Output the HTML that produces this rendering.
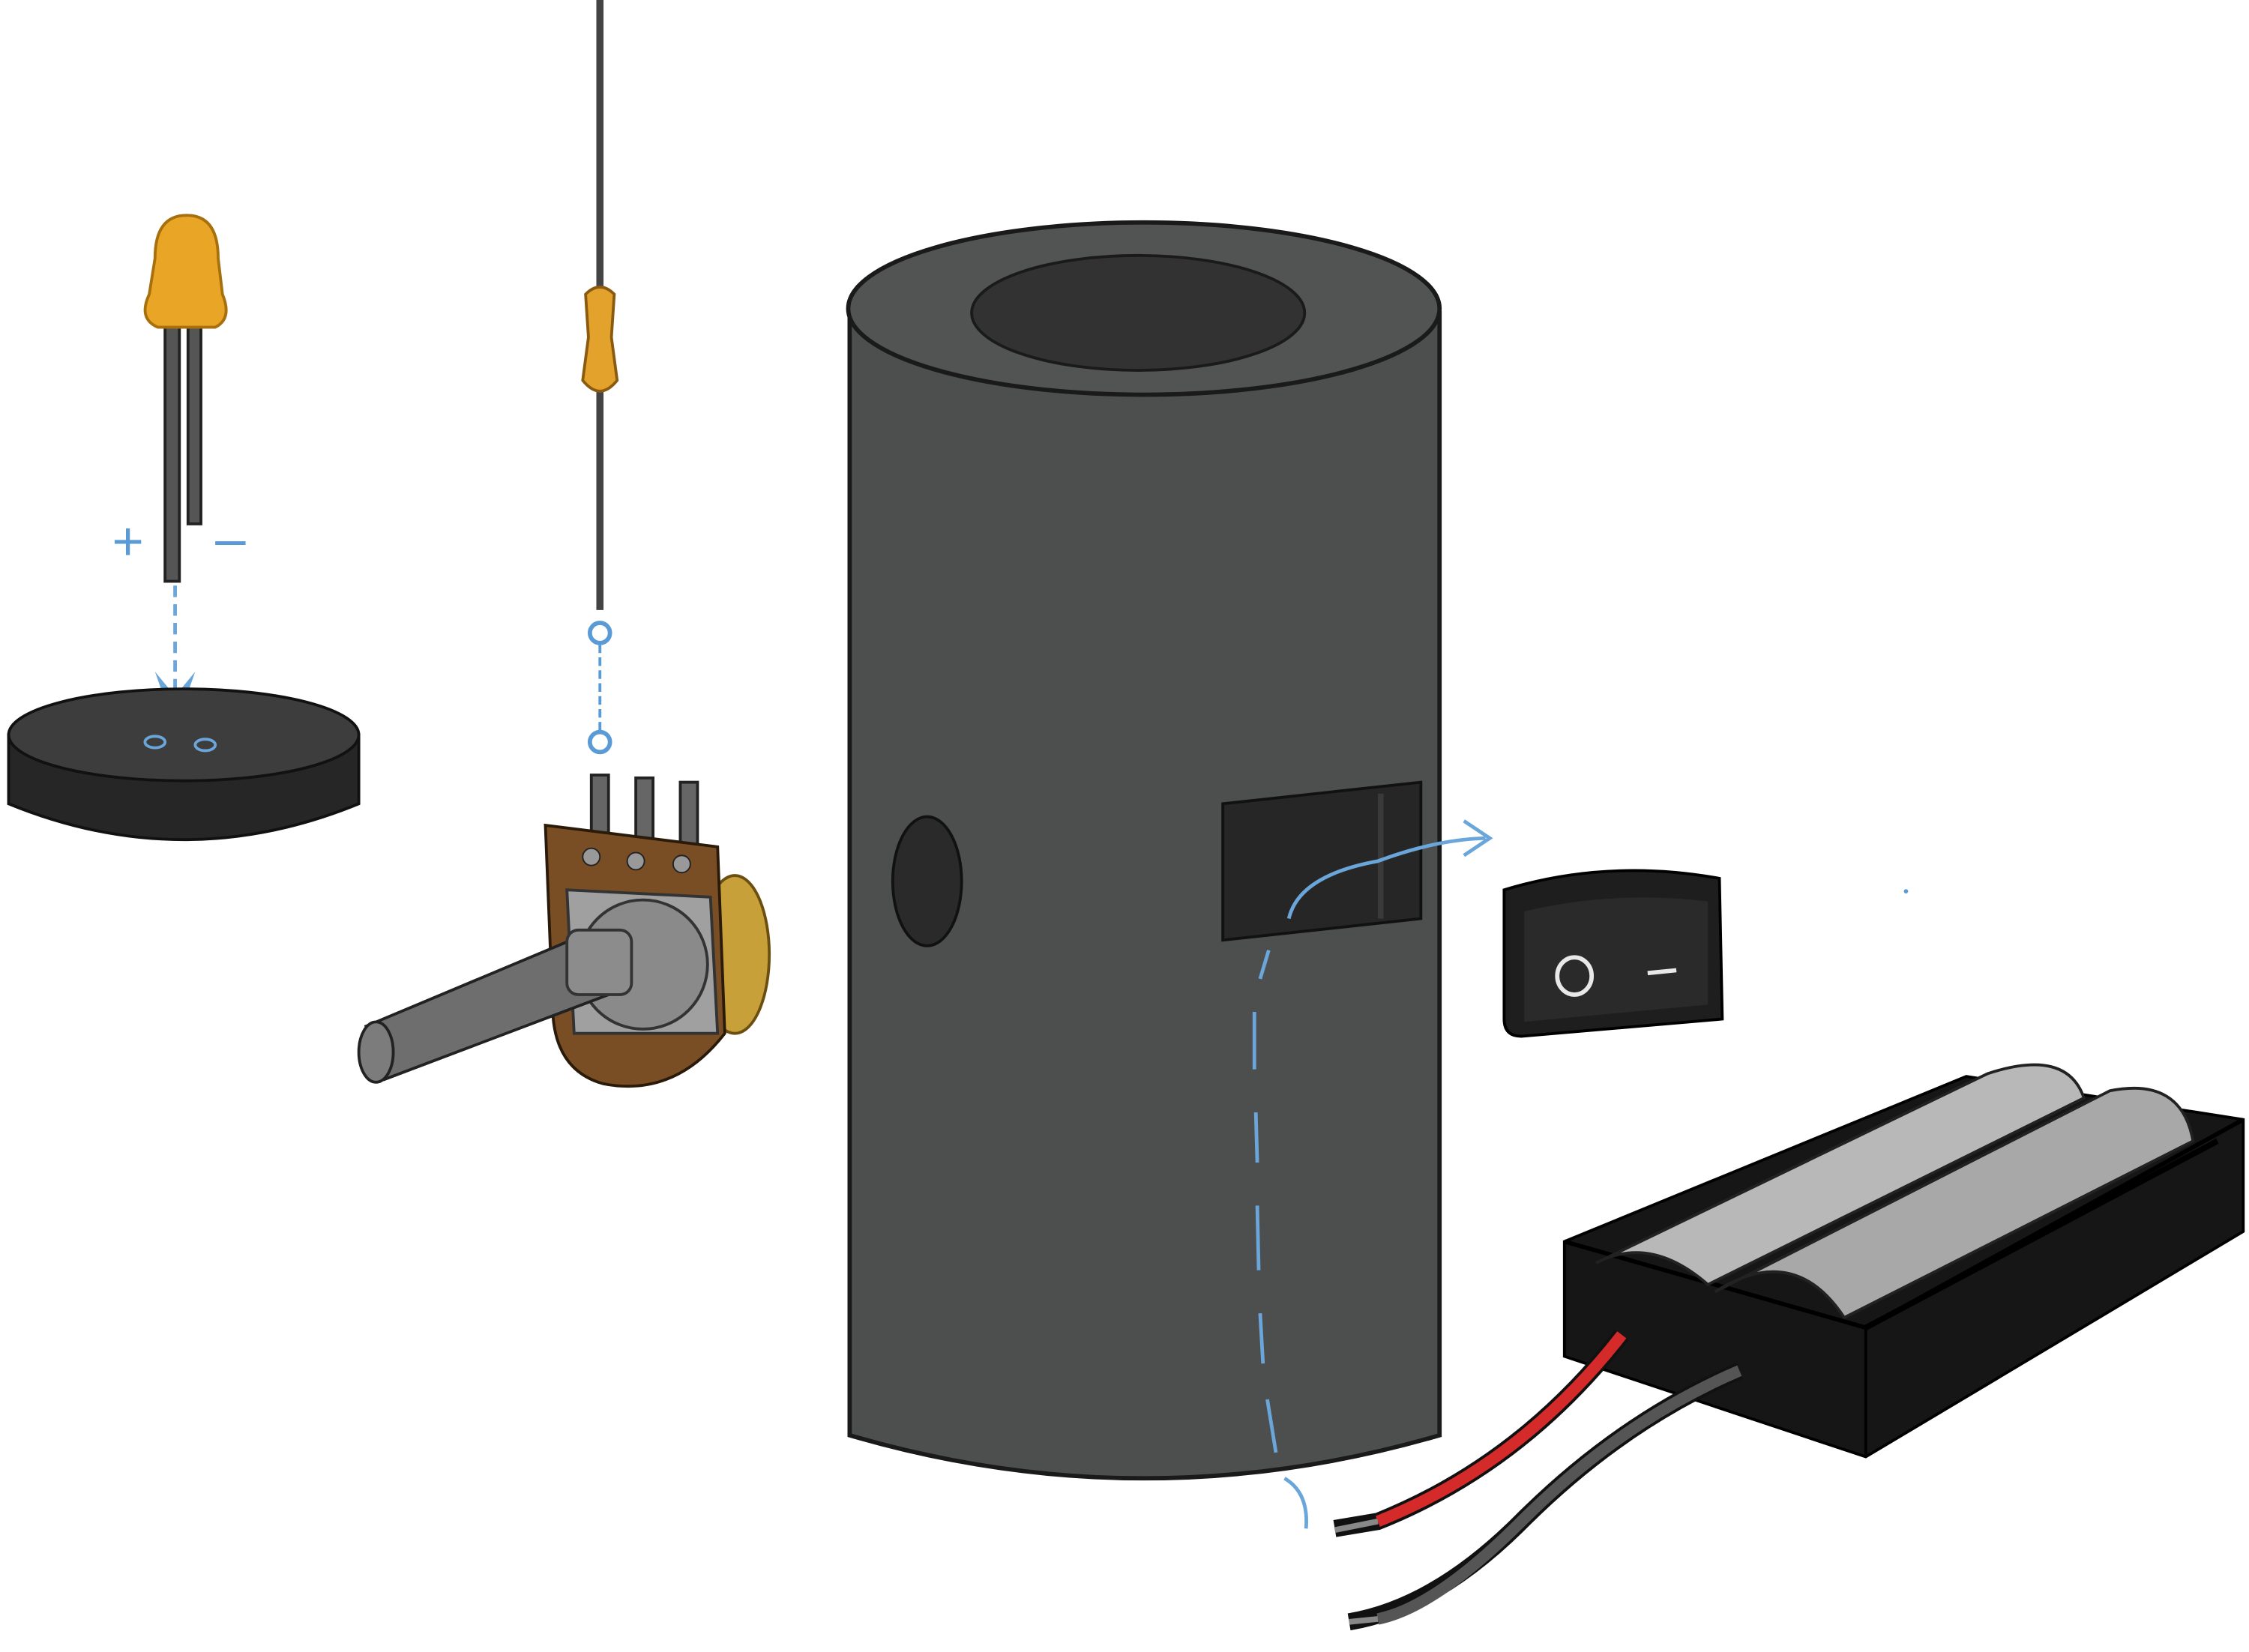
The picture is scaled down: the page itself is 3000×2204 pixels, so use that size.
<!DOCTYPE html>
<html><head><meta charset="utf-8"><style>
html,body{margin:0;padding:0;background:#fff;}
svg{display:block;width:3000px;height:2204px;}
</style></head><body>
<svg viewBox="0 0 1567 1151" xmlns="http://www.w3.org/2000/svg" preserveAspectRatio="none">
<!-- LED -->
<rect x="115" y="225" width="10" height="180" fill="#555" stroke="#222" stroke-width="2"/>
<rect x="131" y="225" width="9" height="140" fill="#555" stroke="#222" stroke-width="2"/>
<path d="M108 180 Q108 150 130 150 Q152 150 152 180 L155 205 Q162 222 150 228 L110 228 Q96 222 104 205 Z" fill="#e9a626" stroke="#a8700c" stroke-width="2"/>
<text x="78" y="390" font-family="Liberation Sans,sans-serif" font-size="38" fill="#5a9bd5">+</text>
<text x="150" y="388" font-family="Liberation Sans,sans-serif" font-size="38" fill="#5a9bd5">–</text>
<path d="M122 408 L122 500" stroke="#6aa6da" stroke-width="2.5" stroke-dasharray="8 5" fill="none"/>
<path d="M108 468 L122 508 L136 468 L122 485 Z" fill="#6aa6da"/>
<!-- disk -->
<path d="M6 512 L6 560 Q128 610 250 560 L250 512 Z" fill="#262626" stroke="#111" stroke-width="2"/>
<ellipse cx="128" cy="512" rx="122" ry="32" fill="#3d3d3d" stroke="#111" stroke-width="2"/>
<ellipse cx="108" cy="517" rx="7" ry="4" fill="none" stroke="#6aa6da" stroke-width="2"/>
<ellipse cx="143" cy="519" rx="7" ry="4" fill="none" stroke="#6aa6da" stroke-width="2"/>
<!-- resistor -->
<line x1="418" y1="0" x2="418" y2="425" stroke="#444" stroke-width="5"/>
<path d="M408 205 Q418 195 428 205 L426 235 L430 265 Q418 280 406 265 L410 235 Z" fill="#e2a22c" stroke="#8a5a10" stroke-width="2"/>
<circle cx="418" cy="441" r="7" fill="none" stroke="#5a9bd5" stroke-width="3"/>
<line x1="418" y1="449" x2="418" y2="510" stroke="#5a9bd5" stroke-width="2" stroke-dasharray="6 3"/>
<circle cx="418" cy="517" r="7" fill="none" stroke="#5a9bd5" stroke-width="3"/>
<!-- potentiometer -->
<rect x="412" y="540" width="12" height="45" fill="#666" stroke="#222" stroke-width="2"/>
<rect x="443" y="542" width="12" height="45" fill="#666" stroke="#222" stroke-width="2"/>
<rect x="474" y="545" width="12" height="45" fill="#666" stroke="#222" stroke-width="2"/>
<ellipse cx="512" cy="665" rx="24" ry="55" fill="#c8a03a" stroke="#6b4f10" stroke-width="2"/>
<path d="M380 575 L500 590 L505 720 Q470 765 420 755 Q385 745 385 700 Z" fill="#7a4e25" stroke="#2a1a0a" stroke-width="2"/>
<circle cx="412" cy="597" r="6" fill="#999" stroke="#222"/><circle cx="443" cy="600" r="6" fill="#999" stroke="#222"/><circle cx="475" cy="602" r="6" fill="#999" stroke="#222"/>
<path d="M395 620 L495 625 L500 720 L400 720 Z" fill="#a0a0a0" stroke="#333" stroke-width="2"/>
<circle cx="448" cy="672" r="45" fill="#8a8a8a" stroke="#333" stroke-width="2"/>
<path d="M255 715 L410 650 L432 690 L268 752 Z" fill="#6e6e6e" stroke="#222" stroke-width="2"/>
<ellipse cx="262" cy="733" rx="12" ry="21" fill="#7c7c7c" stroke="#222" stroke-width="2"/>
<rect x="395" y="648" width="45" height="45" rx="8" fill="#8c8c8c" stroke="#333" stroke-width="2"/>
<!-- cylinder -->
<path d="M592 218 L592 1000 Q797 1060 1003 1000 L1003 218 Z" fill="#4d4e4e" stroke="#1a1a1a" stroke-width="3"/>
<ellipse cx="797" cy="215" rx="206" ry="60" fill="#525353" stroke="#1a1a1a" stroke-width="3"/>
<ellipse cx="793" cy="218" rx="116" ry="40" fill="#323232" stroke="#1a1a1a" stroke-width="2"/>
<ellipse cx="646" cy="614" rx="24" ry="45" fill="#2a2a2a" stroke="#111" stroke-width="2"/>
<path d="M852 560 L990 545 L990 640 L852 655 Z" fill="#262626" stroke="#111" stroke-width="2"/>
<path d="M962 553 L962 640" stroke="#3a3a3a" stroke-width="4"/>
<path d="M898 640 Q905 610 960 600 Q1000 585 1035 584" stroke="#6aa6da" stroke-width="2.5" fill="none"/>
<path d="M1020 572 L1038 584 L1020 596" stroke="#6aa6da" stroke-width="2.5" fill="none"/>
<g stroke="#6aa6da" stroke-width="2.5" fill="none">
<path d="M878 682 L884 662"/>
<path d="M874 705 L874 745"/>
<path d="M875 775 L876 810"/>
<path d="M876 840 L877 885"/>
<path d="M878 915 L880 950"/>
<path d="M883 975 L889 1012"/>
<path d="M895 1030 Q912 1040 910 1065"/>
</g>
<!-- switch -->
<path d="M1048 620 Q1120 598 1198 612 L1200 710 Q1130 716 1060 722 Q1048 722 1048 710 Z" fill="#1e1e1e" stroke="#000" stroke-width="2"/>
<path d="M1062 635 Q1125 620 1190 628 L1190 700 Q1125 706 1062 712 Z" fill="#2a2a2a"/>
<ellipse cx="1097" cy="680" rx="12" ry="13" fill="none" stroke="#e8e8e8" stroke-width="3"/>
<line x1="1148" y1="678" x2="1168" y2="676" stroke="#e8e8e8" stroke-width="3"/>
<circle cx="1328" cy="621" r="1.5" fill="#5a9bd5"/>
<!-- battery -->
<path d="M1090 865 L1370 750 L1563 780 L1563 858 L1300 1015 L1090 945 Z" fill="#161616" stroke="#000" stroke-width="2"/>
<path d="M1300 925 L1300 1015" stroke="#000" stroke-width="2"/>
<path d="M1090 865 L1300 925 L1563 780" stroke="#000" stroke-width="3" fill="none"/>
<path d="M1112 880 L1385 748 Q1440 730 1452 765 L1190 895 Q1150 860 1112 880 Z" fill="#b8b8b8" stroke="#222" stroke-width="2"/>
<path d="M1195 900 L1470 760 Q1520 750 1528 795 L1285 918 Q1250 865 1195 900 Z" fill="#a8a8a8" stroke="#222" stroke-width="2"/>
<path d="M1300 925 L1545 795" stroke="#000" stroke-width="4"/>
<!-- wires -->
<path d="M1130 930 Q1060 1020 960 1060 L930 1065" stroke="#111" stroke-width="12" fill="none"/>
<path d="M1130 930 Q1060 1020 960 1060" stroke="#d42a2a" stroke-width="8" fill="none"/>
<path d="M1212 955 Q1130 990 1060 1060 Q1000 1120 940 1130" stroke="#111" stroke-width="12" fill="none"/>
<path d="M1212 955 Q1130 990 1060 1060 Q1000 1120 960 1128" stroke="#555" stroke-width="8" fill="none"/>
<path d="M960 1060 L930 1066" stroke="#888" stroke-width="4"/>
<path d="M960 1128 L940 1130" stroke="#888" stroke-width="4"/>
</svg>
</body></html>
